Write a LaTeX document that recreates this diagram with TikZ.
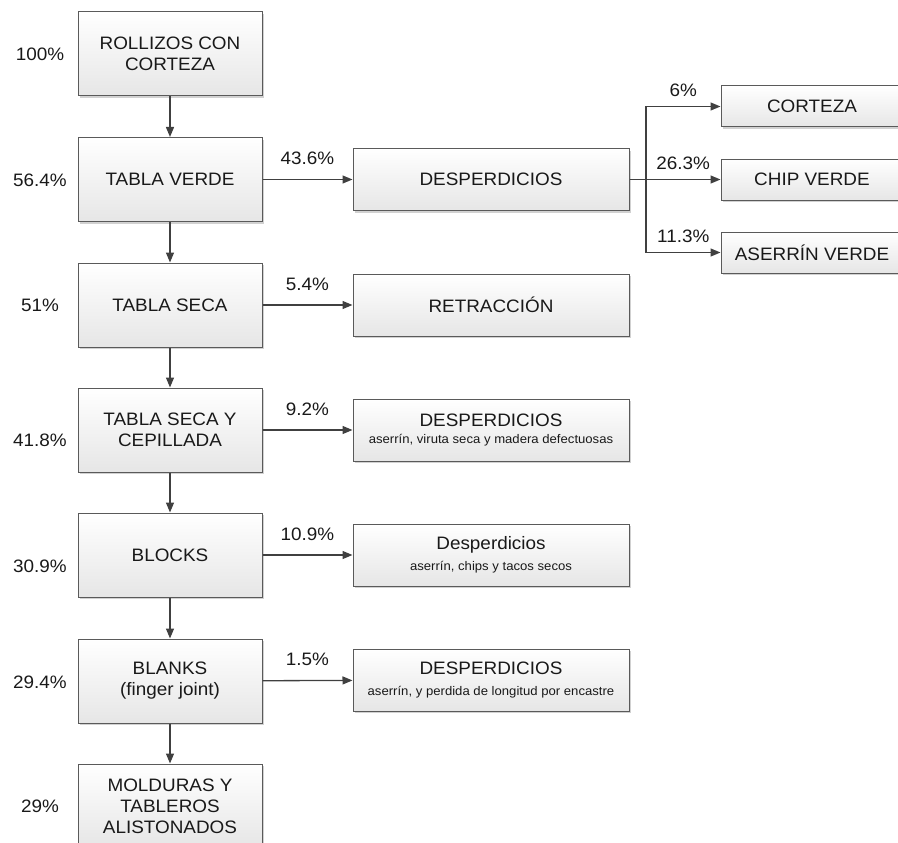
\documentclass[tikz,border=0pt]{standalone}
\usepackage{fontspec}
\setmainfont[FakeStretch=1.05]{Liberation Sans}
\usetikzlibrary{arrows.meta,shadows,positioning}
\definecolor{linea}{HTML}{5A5A5A}
\definecolor{flechagris}{HTML}{404040}
\definecolor{fondo}{HTML}{E6E6E6}
\newcommand{\letra}{\fontsize{18}{21}\selectfont}
\newcommand{\letrachica}{\fontsize{12.5}{14}\selectfont}
\tikzset{
  caja/.style={draw=linea, line width=1pt, top color=white, bottom color=fondo,
    drop shadow={shadow xshift=2pt, shadow yshift=-2pt, opacity=0.18, fill=black},
    align=center, inner sep=0pt, font=\letra, text=black!90},
  proceso/.style={caja, minimum width=184pt, minimum height=84pt},
  residuo/.style={caja, minimum width=276pt, minimum height=62pt},
  producto/.style={caja, minimum width=182pt, minimum height=41pt},
  flecha/.style={draw=flechagris, line width=1.3pt, -{Triangle[length=10pt,width=8pt]}},
  pct/.style={font=\letra, text=black!90, inner sep=0pt}
}
\begin{document}
\begin{tikzpicture}[x=1pt, y=-1pt]
    \useasboundingbox (0,0) rectangle (898,843);
    % columna principal
    \node[proceso] (rollizos)  at (170,54)  {ROLLIZOS CON\\CORTEZA};
    \node[proceso] (verde)     at (170,179.5) {TABLA VERDE};
    \node[proceso] (seca)      at (170,305) {TABLA SECA};
    \node[proceso] (cepillada) at (170,430) {TABLA SECA Y\\CEPILLADA};
    \node[proceso] (blocks)    at (170,555) {BLOCKS};
    \node[proceso] (blanks)    at (170,681) {BLANKS\\(finger joint)};
    \node[proceso] (molduras)  at (170,806) {MOLDURAS Y\\TABLEROS\\ALISTONADOS};
    % porcentajes
    \node[pct] (p1) at (40,54)  {100\%};
    \node[pct] (p2) at (40,180) {56.4\%};
    \node[pct] (p3) at (40,305) {51\%};
    \node[pct] (p4) at (40,440) {41.8\%};
    \node[pct] (p5) at (40,566) {30.9\%};
    \node[pct] (p6) at (40,682) {29.4\%};
    \node[pct] (p7) at (40,806) {29\%};
    % residuos
    \node[residuo] (desp1)      at (491,179.5) {DESPERDICIOS};
    \node[residuo] (retraccion) at (491,305) {RETRACCIÓN};
    \node[residuo] (desp2)      at (491,430)
        {DESPERDICIOS\\[-4pt]{\letrachica aserrín, viruta seca y madera defectuosas}};
    \node[residuo] (desp3)      at (491,555)
        {Desperdicios\\{\letrachica aserrín, chips y tacos secos}};
    \node[residuo] (desp4)      at (491,680)
        {DESPERDICIOS\\{\letrachica aserrín, y perdida de longitud por encastre}};
    % subproductos
    \node[producto] (corteza) at (812,106.5) {CORTEZA};
    \node[producto] (chip)    at (812,179.5) {CHIP VERDE};
    \node[producto] (aserrin) at (812,252.5) {ASERRÍN VERDE};
    \coordinate (split) at (646,179.5);
    % flechas
    \foreach \a/\b in {rollizos/verde, verde/seca, seca/cepillada,
                       cepillada/blocks, blocks/blanks, blanks/molduras}
        \draw[flecha] (\a) -- (\b);
    \draw[flecha] (verde) -- node[pct, above=14pt] {43.6\%} (desp1);
    \draw[flecha] (seca) -- node[pct, above=14pt] {5.4\%} (retraccion);
    \draw[flecha] (cepillada) -- node[pct, above=14pt] {9.2\%} (desp2);
    \draw[flecha] (blocks) -- node[pct, above=14pt] {10.9\%} (desp3);
    \draw[flecha] (blanks) -- node[pct, above=14pt] {1.5\%} (desp4);
    \draw[draw=flechagris, line width=1.3pt] (desp1) -- (split);
    \draw[flecha] (split) |- node[pct, pos=0.75, above=9pt] {6\%} (corteza);
    \draw[flecha] (split) -- node[pct, above=9pt] {26.3\%} (chip);
    \draw[flecha] (split) |- node[pct, pos=0.75, above=9pt] {11.3\%} (aserrin);
\end{tikzpicture}
\end{document}
